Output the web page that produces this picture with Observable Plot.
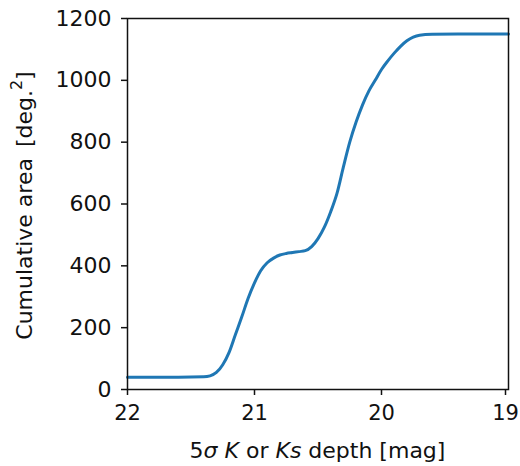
<!DOCTYPE html>
<html>
<head>
<meta charset="utf-8">
<script src="https://cdn.jsdelivr.net/npm/d3@7"></script>
<script src="https://cdn.jsdelivr.net/npm/@observablehq/plot@0.6"></script>
<style>
  html, body { margin: 0; padding: 0; background: #fff; overflow: hidden; }
  #chart svg { display: block; overflow: visible; }
</style>
</head>
<body>
<div id="chart"></div>
<script>
const depthMag = [22.0, 21.6, 21.4, 21.35, 21.3, 21.25, 21.2, 21.15, 21.1, 21.05, 21.0, 20.95, 20.9, 20.85, 20.8, 20.75, 20.7, 20.65, 20.6, 20.55, 20.5, 20.45, 20.4, 20.35, 20.3, 20.25, 20.2, 20.15, 20.1, 20.05, 20.0, 19.95, 19.9, 19.85, 19.8, 19.75, 19.7, 19.6, 19.4, 19.0];
const cumArea  = [40, 40, 41, 44, 55, 80, 120, 178, 235, 295, 345, 385, 410, 425, 435, 440, 443, 446, 449, 462, 488, 525, 575, 635, 720, 800, 865, 920, 965, 1000, 1035, 1063, 1088, 1110, 1128, 1140, 1146, 1149, 1150, 1150];
const xTicks = [22, 21, 20, 19];
const yTicks = [0, 200, 400, 600, 800, 1000, 1200];

const data = depthMag.map((m, i) => ({mag: m, area: cumArea[i]}));

const font = "'DejaVu Sans', sans-serif";
const xMain = xTicks.slice(0, -1);
const xLast = xTicks.slice(-1);

const chart = Plot.plot({
  width: 520,
  height: 466,
  marginLeft: 127,
  marginRight: 12,
  marginTop: 18,
  marginBottom: 77,
  style: {fontFamily: font, fontSize: "22px", color: "#111", background: "#fff", overflow: "visible"},
  x: {domain: [22, 19], ticks: xTicks, label: null},
  y: {domain: [0, 1200], ticks: yTicks, label: null},
  marks: [
    Plot.line(data, {x: "mag", y: "area", stroke: "#1f77b4", strokeWidth: 3, curve: "monotone-x"}),
    Plot.frame({stroke: "#111", strokeWidth: 1.5}),
    Plot.axisX({ticks: xMain, tickSize: 6, tickPadding: 10, fontSize: 21, stroke: "#111", strokeWidth: 1.5, label: null, tickFormat: d => String(d)}),
    Plot.axisX({ticks: xLast, tickSize: 6, tickPadding: 10, fontSize: 21, stroke: "#111", strokeWidth: 1.5, label: null, dx: -3, tickFormat: d => String(d)}),
    Plot.axisY({ticks: yTicks, tickSize: 6, tickPadding: 10, fontSize: 22, stroke: "#111", strokeWidth: 1.5, label: null, tickFormat: d => String(d)})
  ]
});

document.getElementById("chart").appendChild(chart);

const svg = d3.select(chart);
// x-axis label with italic sigma, K and Ks
const xl = svg.append("text")
  .attr("x", 317.5).attr("y", 458)
  .attr("text-anchor", "middle")
  .attr("font-family", font).attr("font-size", 22).attr("fill", "#111");
xl.append("tspan").text("5");
xl.append("tspan").attr("font-style", "italic").text("σ ");
xl.append("tspan").attr("font-style", "italic").text("K");
xl.append("tspan").text(" or ");
xl.append("tspan").attr("font-style", "italic").text("Ks");
xl.append("tspan").text(" depth [mag]");

// y-axis label with superscript
const yl = svg.append("text")
  .attr("transform", "translate(32,205.5) rotate(-90)")
  .attr("text-anchor", "middle")
  .attr("font-family", font).attr("font-size", 22).attr("fill", "#111");
yl.append("tspan").text("Cumulative area\u2002[deg.");
yl.append("tspan").attr("font-size", 16).attr("dy", -10).text("2");
yl.append("tspan").attr("dy", 10).text("]");
</script>
</body>
</html>
